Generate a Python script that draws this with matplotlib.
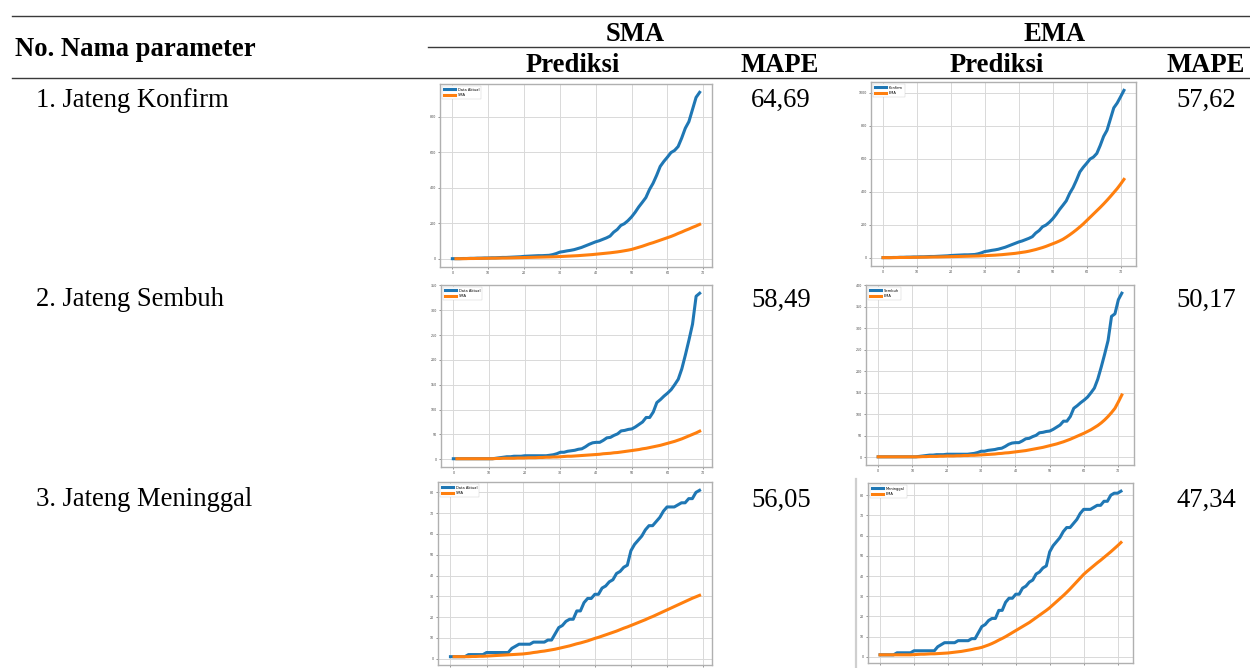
import numpy as np
import matplotlib
matplotlib.use("Agg")
import matplotlib.pyplot as plt
from matplotlib.lines import Line2D

W, H = 1250, 668

# ---- table text ----
rows = ["1. Jateng Konfirm", "2. Jateng Sembuh", "3. Jateng Meninggal"]
mape_sma = ["64,69", "58,49", "56,05"]
mape_ema = ["57,62", "50,17", "47,34"]

# ---- series (day index from 0) ----
konfirm_aktual = [1, 1, 1, 2, 2, 3, 3, 4, 4, 5,
                  5, 6, 6, 7, 8, 8, 9, 10, 11, 12,
                  14, 15, 16, 17, 18, 18, 19, 20, 24, 30,
                  38, 41, 45, 48, 52, 58, 64, 72, 80, 88,
                  96, 102, 110, 118, 128, 150, 165, 188, 198, 215,
                  236, 262, 292, 318, 345, 390, 425, 470, 520, 548,
                  572, 598, 610, 632, 680, 735, 772, 840, 908, 937,
                  975, 1014]
konfirm_sma = [1, 1, 1, 1.5, 2, 2, 2.5, 3, 3, 3.5,
               4, 4, 4.5, 5, 5, 5.5, 6, 6.5, 7, 7.5,
               8, 8.5, 9, 9.5, 10, 10.5, 11, 11.5, 12, 13,
               14, 15, 16, 17, 18, 19.5, 21, 22.5, 24, 26,
               28, 30, 32, 34, 36.5, 39, 42, 45.5, 49, 53,
               59, 65, 71, 78, 85, 91, 98, 105, 112, 119,
               126, 134, 143, 151, 160, 168, 177, 185, 194]
konfirm_ema = [1, 1, 1, 1, 1.5, 2, 2, 2, 2.5, 3,
               3, 3.5, 4, 4, 4.5, 5, 5, 5.5, 6, 6.5,
               7, 7.5, 8, 8.5, 9, 9.5, 10, 10.5, 11, 12,
               13, 14, 15, 16, 17.5, 19, 21, 23, 25, 27,
               30, 33, 36, 40, 45, 50, 56, 62, 69, 77,
               85, 93, 102, 112, 125, 139, 154, 170, 187, 205,
               225, 245, 265, 285, 305, 326, 348, 371, 395, 419,
               446, 475]

sembuh_aktual = [1, 1, 1, 1, 1, 1, 1, 1, 1, 1,
                 1, 1, 2, 3, 4, 5, 5, 6, 6, 6,
                 7, 7, 7, 7, 7, 7, 7, 8, 9, 11,
                 14, 14, 16, 17, 18, 20, 21, 25, 30, 33,
                 34, 34, 38, 43, 44, 48, 51, 57, 58, 60,
                 61, 65, 70, 75, 84, 84, 95, 114, 120, 127,
                 133, 140, 150, 161, 182, 210, 240, 272, 328, 334,
                 367, 382]
sembuh_sma = [1, 1, 1, 1, 1, 1, 1, 1, 1, 1,
              1, 1.5, 1.5, 2, 2, 2, 2, 2.5, 2.5, 2.5,
              3, 3, 3, 3.5, 3.5, 4, 4, 4.5, 4.5, 5,
              5.5, 6, 6, 6.5, 7, 7.5, 8, 8.5, 9, 9.5,
              10, 11, 11.5, 12, 13, 13.5, 14.5, 15.5, 16.5, 17.5,
              18.5, 19.5, 21, 22, 23.5, 25, 26.5, 28, 30, 32,
              34, 36, 38.5, 41, 44, 47, 50, 53, 56.5]
sembuh_ema = [1, 1, 1, 1, 1, 1, 1, 1, 1, 1,
              1, 1, 1, 1.5, 1.5, 2, 2, 2, 2.5, 2.5,
              3, 3, 3, 3.5, 3.5, 4, 4, 4.5, 4.5, 5,
              5.5, 6, 6.5, 7, 7.5, 8.5, 9, 10, 10.5, 11.5,
              12.5, 13.5, 14.5, 15.5, 17, 18.5, 20, 21.5, 23, 25,
              27, 29, 31, 33.5, 36, 39, 42, 45.5, 49, 52.5,
              56, 60, 64, 69, 74, 80, 87, 95, 104, 114,
              129, 145]

meninggal_aktual = [1, 1, 1, 1, 1, 2, 2, 2, 2, 2,
                    3, 3, 3, 3, 3, 3, 3, 5, 6, 7,
                    7, 7, 7, 8, 8, 8, 8, 9, 9, 12,
                    15, 16, 18, 19, 19, 23, 23, 27, 29, 29,
                    31, 31, 34, 35, 37, 38, 41, 42, 44, 45,
                    52, 55, 57, 59, 62, 64, 64, 66, 68, 71,
                    73, 73, 73, 74, 75, 75, 77, 77, 80, 81,
                    81, 82]
meninggal_sma = [1, 1, 1, 1, 1, 1.1, 1.1, 1.2, 1.2, 1.3,
                 1.4, 1.5, 1.6, 1.7, 1.8, 1.9, 2, 2.1, 2.2, 2.3,
                 2.5, 2.7, 3, 3.2, 3.5, 3.7, 4, 4.3, 4.6, 5,
                 5.4, 5.8, 6.2, 6.7, 7.2, 7.6, 8.1, 8.6, 9.2, 9.8,
                 10.3, 10.9, 11.5, 12.1, 12.7, 13.3, 14, 14.7, 15.3, 16,
                 16.7, 17.4, 18.1, 18.8, 19.6, 20.3, 21.1, 21.9, 22.7, 23.5,
                 24.3, 25.1, 25.9, 26.7, 27.5, 28.3, 29.1, 29.8, 30.5]
meninggal_ema = [1, 1, 1, 1, 1, 1, 1, 1, 1, 1,
                 1.1, 1.2, 1.3, 1.3, 1.4, 1.5, 1.5, 1.6, 1.7, 1.8,
                 1.9, 2.1, 2.3, 2.5, 2.7, 3, 3.3, 3.6, 4, 4.3,
                 4.7, 5.3, 5.9, 6.6, 7.4, 8.3, 9.1, 10, 11, 12,
                 13, 14, 15, 16, 17, 18.2, 19.4, 20.6, 21.8, 23,
                 24.3, 25.8, 27.3, 28.8, 30.3, 31.9, 33.6, 35.4, 37.2, 39,
                 40.8, 42.3, 43.7, 45.1, 46.5, 47.8, 49.2, 50.6, 52, 53.5,
                 55, 56.6]

BLUE = "#1f77b4"
ORANGE = "#ff7f0e"
SERIF = ["Liberation Serif", "DejaVu Serif"]


def px(x):
    return x / W


def py(y):
    return 1 - y / H


def small_chart(fig, box, actual, pred, labels, n_days, show_xlabels=True):
    # box = (left, top, right, bottom) in pixels
    l, t, r, b = box
    ax = fig.add_axes([px(l), py(b), (r - l) / W, (b - t) / H])
    act = np.asarray(actual[:n_days], float)
    ax.plot(np.arange(len(act)), act, color=BLUE, lw=2.2, label=labels[0])
    p = np.asarray(pred, float)
    x0 = n_days - len(p)
    ax.plot(np.arange(x0, x0 + len(p)), p, color=ORANGE, lw=2.2, label=labels[1])
    ax.set_xticks(np.arange(0, 80, 10))
    ax.grid(True, color="#d9d9d9", lw=0.7)
    ax.set_axisbelow(True)
    for s in ax.spines.values():
        s.set_color("#b0b0b0")
        s.set_linewidth(1.0)
    ax.tick_params(labelsize=2.3, length=1.2, width=0.4, pad=1.5,
                   colors="#444444")
    if not show_xlabels:
        # labels fall below the page in the original
        ax.tick_params(axis="x", labelbottom=False)
    leg = ax.legend(loc="upper left", fontsize=2.6, handlelength=3.2,
                    borderpad=0.5, labelspacing=0.5, fancybox=False,
                    framealpha=1)
    leg.get_frame().set_linewidth(0.3)
    leg.get_frame().set_edgecolor("#cccccc")
    return ax


fig = plt.figure(figsize=(W / 100, H / 100), dpi=100)

# rules of the table
rule_kw = dict(color="#3a3a3a", lw=1.0)
fig.add_artist(Line2D([px(12), 1], [py(15.5), py(15.5)], **rule_kw))
fig.add_artist(Line2D([px(428), 1], [py(46.5), py(46.5)], **rule_kw))
fig.add_artist(Line2D([px(12), 1], [py(77.5), py(77.5)], **rule_kw))

fs = 19.2
bold = dict(fontsize=fs, fontweight="bold", family=SERIF, va="baseline")
fig.text(px(15), py(56), "No. Nama parameter", ha="left", **bold)
fig.text(px(635), py(41), "SMA", ha="center", **bold)
fig.text(px(1055), py(41), "EMA", ha="center", **bold)
fig.text(px(573), py(72), "Prediksi", ha="center", **bold)
fig.text(px(780), py(72), "MAPE", ha="center", **bold)
fig.text(px(997), py(72), "Prediksi", ha="center", **bold)
fig.text(px(1206), py(72), "MAPE", ha="center", **bold)

reg = dict(fontsize=fs, family=SERIF, va="baseline")
baselines = [107, 306.5, 506.5]
for name, ms, me, yb in zip(rows, mape_sma, mape_ema, baselines):
    fig.text(px(36), py(yb), name, ha="left", **reg)
    fig.text(px(781), py(yb), ms, ha="center", **reg)
    fig.text(px(1206), py(yb), me, ha="center", **reg)

# embedded charts
small_chart(fig, (440, 84, 712, 267), konfirm_aktual, konfirm_sma,
            ["Data Aktual", "SMA"], 70)
small_chart(fig, (871, 82, 1136, 266), konfirm_aktual, konfirm_ema,
            ["Konfirm", "EMA"], 72)
small_chart(fig, (441, 285, 712, 467), sembuh_aktual, sembuh_sma,
            ["Data Aktual", "SMA"], 70)
small_chart(fig, (866, 285, 1134, 465), sembuh_aktual, sembuh_ema,
            ["Sembuh", "EMA"], 72)
small_chart(fig, (438, 482, 712, 665), meninggal_aktual, meninggal_sma,
            ["Data Aktual", "SMA"], 70, show_xlabels=False)
small_chart(fig, (868, 483, 1133, 663), meninggal_aktual, meninggal_ema,
            ["Meninggal", "EMA"], 72, show_xlabels=False)

# thin edge of the last pasted image
fig.add_artist(Line2D([px(856), px(856)], [py(479), 0], color="#cfcfcf", lw=1.6))

fig.savefig("out.png", dpi=100)
